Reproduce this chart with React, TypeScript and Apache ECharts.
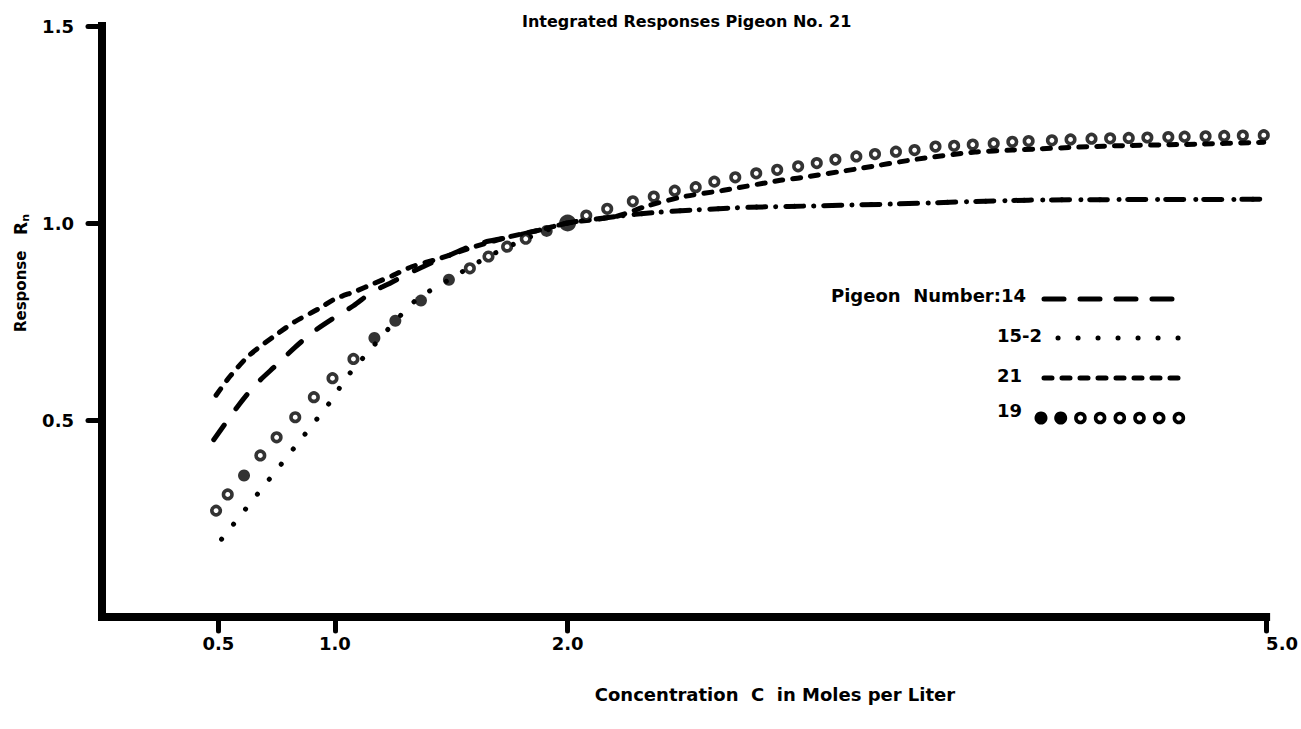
import React, { useEffect, useRef } from "react";
import * as echarts from "echarts";

// ---- data ----
const xTickValues = [0.5, 1.0, 2.0, 5.0];
const yTickValues = [0.5, 1.0, 1.5];

const titleText = "Integrated Responses Pigeon No. 21";
const xAxisName = "Concentration  C  in Moles per Liter";

// Pigeon 14 (long dashes)
const pigeon14 = [
  [0.48, 0.45], [0.59, 0.54], [0.66, 0.59], [0.75, 0.64], [0.83, 0.685],
  [0.91, 0.725], [0.99, 0.757], [1.08, 0.79], [1.16, 0.825], [1.23, 0.845],
  [1.31, 0.87], [1.42, 0.9], [1.48, 0.915], [1.6, 0.945], [1.73, 0.962],
  [1.88, 0.982], [2.0, 1.0], [2.12, 1.01], [2.29, 1.022], [2.45, 1.03],
  [2.61, 1.035], [2.78, 1.04], [2.95, 1.042], [3.39, 1.048], [3.98, 1.058],
  [4.98, 1.06],
];

// Pigeon 15-2 (dots)
const pigeon15_2 = [
  [0.49, 0.18], [0.99, 0.553], [1.04, 0.6], [1.11, 0.65], [1.34, 0.8],
  [1.49, 0.856], [1.66, 0.915], [1.82, 0.96], [2.0, 1.0], [2.12, 1.01],
  [2.29, 1.022], [2.45, 1.03], [2.61, 1.035], [2.78, 1.04], [2.95, 1.042],
  [3.39, 1.048], [3.98, 1.058], [4.98, 1.06],
];

// Pigeon 21 (short dashes)
const pigeon21 = [
  [0.49, 0.563], [0.55, 0.611], [0.63, 0.663], [0.74, 0.713], [0.83, 0.75],
  [0.93, 0.782], [1.0, 0.807], [1.09, 0.827], [1.17, 0.847], [1.25, 0.867],
  [1.33, 0.889], [1.45, 0.91], [1.6, 0.94], [1.75, 0.965], [1.9, 0.985],
  [2.0, 1.0], [2.21, 1.017], [2.34, 1.043], [2.49, 1.066], [2.67, 1.083],
  [2.92, 1.109], [3.0, 1.115], [3.25, 1.138], [3.5, 1.162], [3.75, 1.18],
  [3.91, 1.185], [4.3, 1.195], [4.7, 1.2], [4.99, 1.205],
];

// Pigeon 19 (circles): open and filled marks
const pigeon19Open = [
  [0.49, 0.27], [0.54, 0.311], [0.68, 0.41], [0.75, 0.456], [0.83, 0.507],
  [0.91, 0.558], [0.99, 0.606], [1.08, 0.655], [1.58, 0.885], [1.66, 0.915],
  [1.74, 0.94], [1.82, 0.96], [2.08, 1.019], [2.17, 1.036], [2.28, 1.055],
  [2.37, 1.067], [2.46, 1.082], [2.55, 1.091], [2.63, 1.105], [2.72, 1.116],
  [2.81, 1.126], [2.9, 1.135], [2.99, 1.144], [3.07, 1.152], [3.15, 1.161],
  [3.24, 1.169], [3.32, 1.175], [3.41, 1.181], [3.49, 1.185], [3.58, 1.194],
  [3.66, 1.196], [3.74, 1.199], [3.83, 1.202], [3.91, 1.206], [3.98, 1.208],
  [4.08, 1.21], [4.16, 1.212], [4.25, 1.214], [4.33, 1.215], [4.41, 1.216],
  [4.49, 1.217], [4.58, 1.218], [4.65, 1.219], [4.74, 1.22], [4.82, 1.221],
  [4.9, 1.222], [4.99, 1.223],
];
const pigeon19Filled = [
  [0.61, 0.359], [1.17, 0.708], [1.26, 0.752], [1.37, 0.803], [1.49, 0.856],
  [1.91, 0.98],
];
// common normalisation point R = 1 at C = 2
const normPoint = [[2.0, 1.0]];

const legendLabels = ["Pigeon  Number:14", "15-2", "21", "19"];

const FONT = "DejaVu Sans";
const BLACK = "#000";

export default function App() {
  const ref = useRef<HTMLDivElement>(null);

  useEffect(() => {
    if (!ref.current) return;
    const chart = echarts.init(ref.current, null, { renderer: "svg" });

    const lineSeries = (name: string, data: number[][], dash: number[], offset = 0) => ({
      name,
      type: "line",
      data,
      showSymbol: false,
      smooth: 0.25,
      lineStyle: {
        color: BLACK,
        width: 5,
        type: dash,
        dashOffset: offset,
        cap: "round",
        join: "round",
      },
      z: 2,
    });

    const legendText = (text: string, x: number, y: number, align: string) => ({
      type: "text",
      x,
      y,
      style: {
        text,
        fill: BLACK,
        font: `bold 18px "${FONT}"`,
        textAlign: align,
        textVerticalAlign: "middle",
      },
    });

    const legendCircles: any[] = [];
    for (let i = 0; i < 8; i++) {
      const filled = i < 2;
      legendCircles.push({
        type: "circle",
        shape: { cx: 1041 + i * 19.7, cy: 418, r: filled ? 6.5 : 4.5 },
        style: filled
          ? { fill: BLACK }
          : { fill: "#fff", stroke: BLACK, lineWidth: 3.6 },
      });
    }

    chart.setOption({
      animation: false,
      backgroundColor: "#fff",
      title: {
        text: titleText,
        left: 517,
        top: 8,
        textStyle: { fontFamily: FONT, fontWeight: "bold", fontSize: 16, color: BLACK },
      },
      grid: { left: 102, right: 24, top: 26, bottom: 112, containLabel: false },
      xAxis: {
        type: "value",
        min: 0,
        max: 5,
        axisLine: { show: true, lineStyle: { color: BLACK, width: 8, cap: "square" } },
        axisTick: {
          show: true,
          customValues: xTickValues,
          length: 14,
          lineStyle: { color: BLACK, width: 5, cap: "round" },
        },
        axisLabel: {
          customValues: xTickValues,
          formatter: (v: number) => v.toFixed(1),
          margin: 17,
          color: BLACK,
          fontFamily: FONT,
          fontWeight: "bold",
          fontSize: 18,
          alignMaxLabel: "left",
        },
        splitLine: { show: false },
      },
      yAxis: {
        type: "value",
        min: 0,
        max: 1.5,
        axisLine: { show: true, lineStyle: { color: BLACK, width: 8, cap: "square" } },
        axisTick: {
          show: true,
          customValues: yTickValues,
          length: 14,
          lineStyle: { color: BLACK, width: 5, cap: "round" },
        },
        axisLabel: {
          customValues: yTickValues,
          formatter: (v: number) => v.toFixed(1),
          margin: 28,
          color: BLACK,
          fontFamily: FONT,
          fontWeight: "bold",
          fontSize: 18,
          padding: [0, 0, 14, 0],
        },
        splitLine: { show: false },
      },
      series: [
        lineSeries("14", pigeon14, [18, 20]),
        lineSeries("15-2", pigeon15_2, [0.1, 19], 9.5),
        lineSeries("21", pigeon21, [8, 10]),
        {
          name: "19",
          type: "scatter",
          data: pigeon19Open,
          symbol: "circle",
          symbolSize: 8.5,
          itemStyle: { color: "#fff", borderColor: BLACK, borderWidth: 3.6 },
          z: 3,
        },
        {
          name: "19",
          type: "scatter",
          data: pigeon19Filled,
          symbol: "circle",
          symbolSize: 12,
          itemStyle: { color: BLACK },
          z: 3,
        },
        {
          name: "19",
          type: "scatter",
          data: normPoint,
          symbol: "circle",
          symbolSize: 17,
          itemStyle: { color: BLACK },
          z: 3,
        },
      ],
      graphic: [
        {
          type: "text",
          x: 21,
          y: 273,
          rotation: Math.PI / 2,
          style: {
            text: "Response   {r|R}{s|n}",
            fill: BLACK,
            font: `bold 15px "${FONT}"`,
            textAlign: "center",
            textVerticalAlign: "middle",
            rich: {
              r: { fontFamily: FONT, fontWeight: "bold", fontSize: 17, fill: BLACK },
              s: { fontFamily: FONT, fontWeight: "bold", fontSize: 11, fill: BLACK, padding: [9, 0, 0, 0] },
            },
          },
        },
        {
          type: "text",
          x: 775,
          y: 694,
          style: {
            text: xAxisName,
            fill: BLACK,
            font: `bold 18px "${FONT}"`,
            textAlign: "center",
            textVerticalAlign: "middle",
          },
        },
        legendText(legendLabels[0], 1026, 295, "right"),
        {
          type: "line",
          shape: { x1: 1044, y1: 299, x2: 1172, y2: 299 },
          style: { stroke: BLACK, lineWidth: 5, lineDash: [20, 16], lineCap: "round" },
        },
        legendText(legendLabels[1], 997, 335, "left"),
        {
          type: "line",
          shape: { x1: 1058, y1: 338, x2: 1180, y2: 338 },
          style: { stroke: BLACK, lineWidth: 5, lineDash: [0.1, 19.9], lineCap: "round" },
        },
        legendText(legendLabels[2], 997, 375, "left"),
        {
          type: "line",
          shape: { x1: 1044, y1: 378, x2: 1186, y2: 378 },
          style: { stroke: BLACK, lineWidth: 5, lineDash: [8, 10], lineCap: "round" },
        },
        legendText(legendLabels[3], 997, 410, "left"),
        ...legendCircles,
      ],
    });

    return () => chart.dispose();
  }, []);

  return (
    <div
      ref={ref}
      style={{ position: "fixed", left: 0, top: 0, width: 1301, height: 729, background: "#fff" }}
    />
  );
}
